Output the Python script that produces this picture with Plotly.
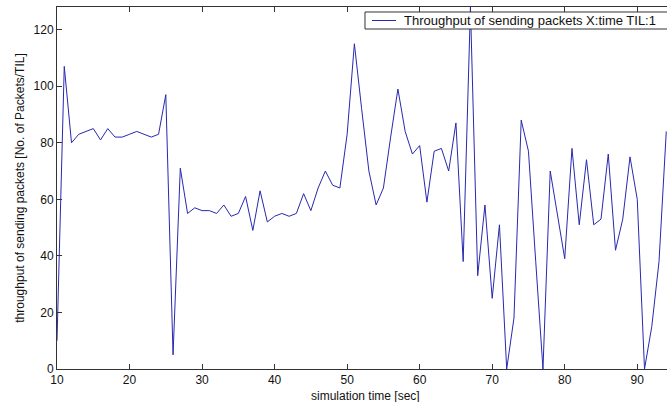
import plotly.graph_objects as go

time_sec = list(range(10, 95))
throughput = [
    10, 107, 80, 83, 84, 85, 81, 85, 82, 82,
    83, 84, 83, 82, 83, 97, 5, 71, 55, 57,
    56, 56, 55, 58, 54, 55, 61, 49, 63, 52,
    54, 55, 54, 55, 62, 56, 64, 70, 65, 64,
    83, 115, 92, 70, 58, 64, 82, 99, 84, 76,
    79, 59, 77, 78, 70, 87, 38, 128, 33, 58,
    25, 51, 0, 18, 88, 77, 38, 0, 70, 54,
    39, 78, 51, 74, 51, 53, 76, 42, 53, 75,
    60, 0, 15, 38, 84,
]
x_ticks = [10, 20, 30, 40, 50, 60, 70, 80, 90]
y_ticks = [0, 20, 40, 60, 80, 100, 120]
series_name = "Throughput of sending packets X:time TIL:1"

FONT = "Liberation Sans, Arial, Helvetica, sans-serif"
AXC = "#333333"
LINEC = "rgb(40,40,175)"

fig = go.Figure()
fig.add_trace(go.Scatter(
    x=time_sec, y=throughput, mode="lines", name=series_name,
    line=dict(color=LINEC, width=1), showlegend=False,
))

# legend box drawn by hand (MATLAB style, compact)
fig.add_shape(type="rect", xref="paper", yref="paper",
              x0=0.5049, x1=1.03, y0=0.9392, y1=0.9862,
              line=dict(color=AXC, width=1), fillcolor="white", layer="above")
fig.add_shape(type="line", xref="paper", yref="paper",
              x0=0.5164, x1=0.5557, y0=0.9627, y1=0.9627,
              line=dict(color=LINEC, width=1), layer="above")
fig.add_annotation(text=series_name, xref="paper", yref="paper",
                   x=0.5672, y=0.9627, xanchor="left", yanchor="middle",
                   showarrow=False, borderpad=0,
                   font=dict(family=FONT, size=13, color="#111111"))
fig.add_annotation(text="simulation time [sec]", xref="paper", yref="paper",
                   x=0.5057, y=-0.0735, xanchor="center", yanchor="middle",
                   showarrow=False, borderpad=0,
                   font=dict(family=FONT, size=12, color="#111111"))

fig.update_layout(
    width=667, height=402,
    margin=dict(l=57, r=0, t=7, b=33),
    paper_bgcolor="white", plot_bgcolor="white",
    font=dict(family=FONT, size=12, color="#111111"),
    showlegend=False,
)
fig.update_xaxes(
    range=[10, 94.1], tickvals=x_ticks, ticktext=[str(v) for v in x_ticks],
    ticks="inside", ticklen=5, tickcolor=AXC, showline=True, linecolor=AXC,
    linewidth=1, mirror="ticks", showgrid=False, zeroline=False,
    tickfont=dict(size=12),
)
fig.update_yaxes(
    range=[0, 128], tickvals=y_ticks, ticktext=[str(v) for v in y_ticks],
    ticks="inside", ticklen=5, tickcolor=AXC, showline=True, linecolor=AXC,
    linewidth=1, mirror=False, showgrid=False, zeroline=False,
    tickfont=dict(size=12),
    title=dict(text="throughput of sending packets [No. of Packets/TIL]",
               font=dict(size=12), standoff=6),
)

fig.write_html("out.html")
